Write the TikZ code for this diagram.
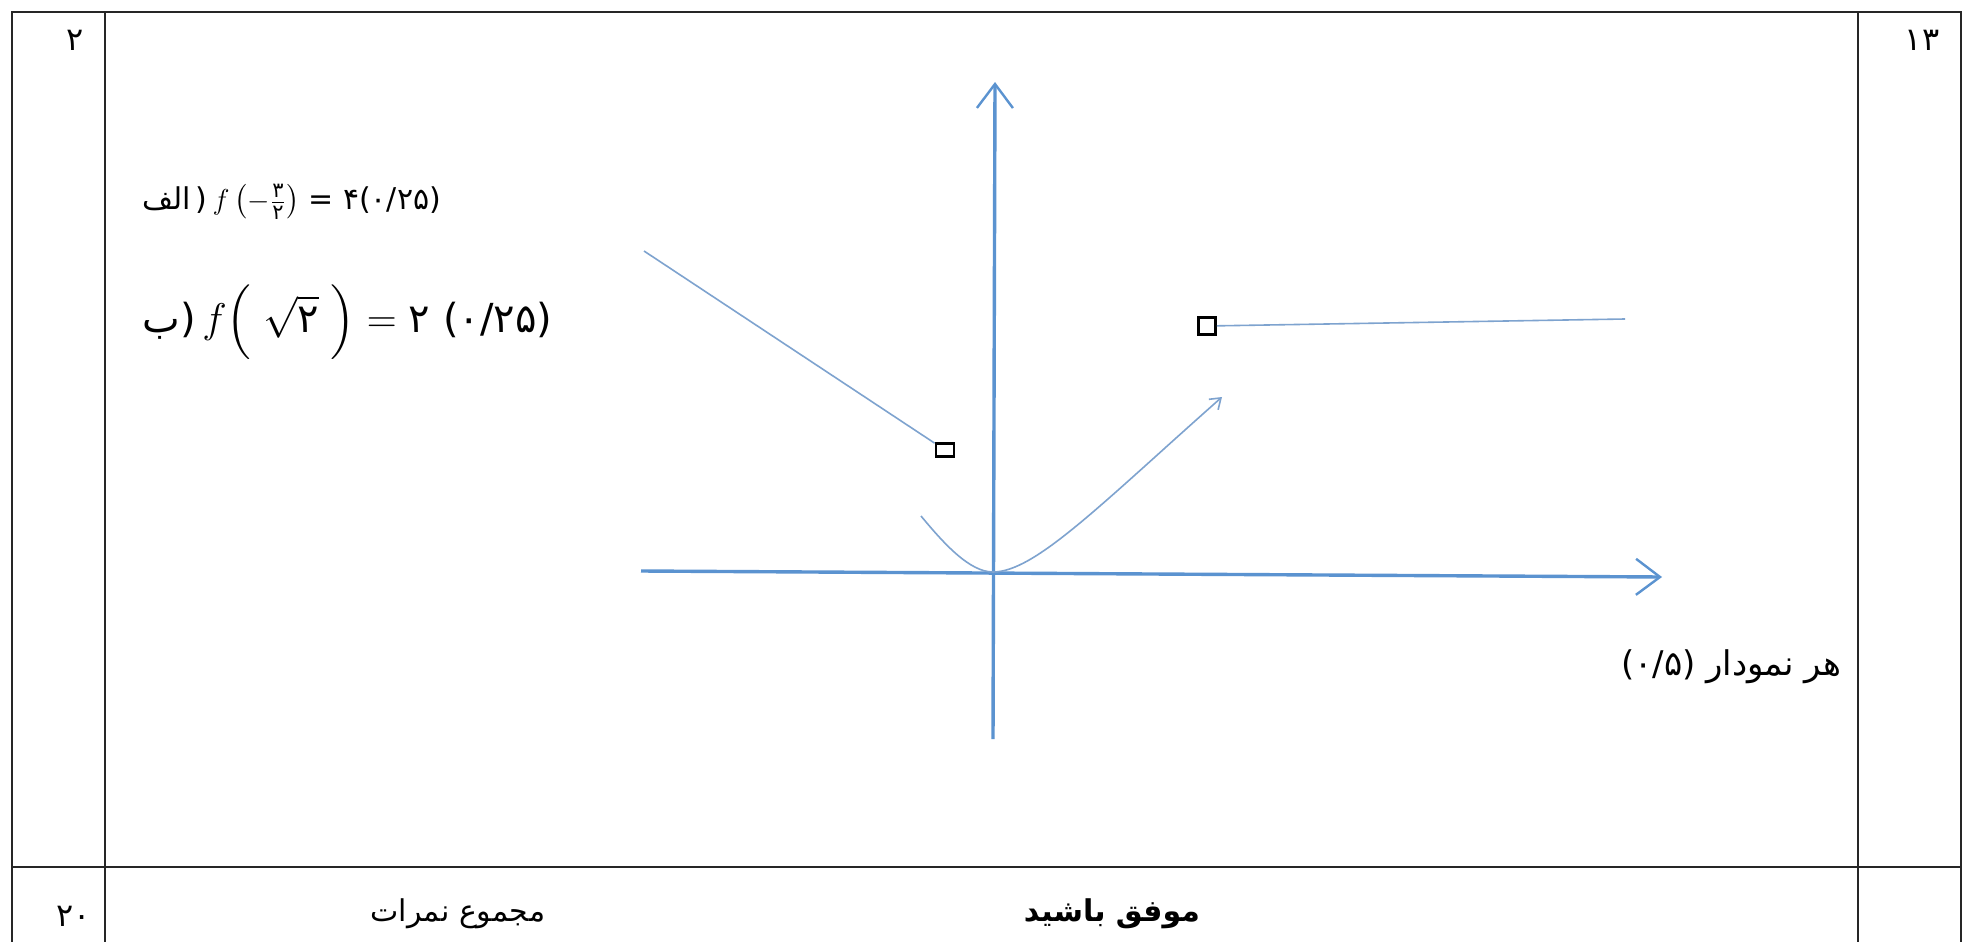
\documentclass[tikz,border=0pt]{standalone}
\usepackage{amsmath}
\usepackage{fontspec}
\usetikzlibrary{arrows.meta}
\TeXXeTstate=1
\newfontfamily\arabicfont[Script=Arabic]{DejaVu Sans}
\newfontfamily\numfont{DejaVu Sans}
\definecolor{axisblue}{HTML}{5B93D0}
\definecolor{curveblue}{HTML}{7EA3CF}
\begin{document}
\begin{tikzpicture}[x=0.5pt,y=-0.5pt,
  frame/.style={line width=1.4pt, black!85},
  axis/.style={line width=1.7pt, axisblue, -{Straight Barb[length=12pt,width=18pt,line width=1.2pt]}},
  curve/.style={line width=0.8pt, curveblue},
  hole/.style={draw=black, line width=1.4pt, fill=white, inner sep=0pt},
  ptext/.style={font=\arabicfont\fontsize{15}{18}\selectfont, inner sep=0pt},
  numtext/.style={font=\numfont\fontsize{16}{18}\selectfont, inner sep=0pt},
  formulaa/.style={font=\fontsize{15}{18}\selectfont, inner sep=0pt, anchor=west},
  formulab/.style={font=\fontsize{20}{23}\selectfont, inner sep=0pt, anchor=west}]

\useasboundingbox (0,0) rectangle (1971,942);
\fill[white] (0,0) rectangle (1971,942);

% table frame
\draw[frame] (12,942) -- (12,12) -- (1961,12) -- (1961,942);
\draw[frame] (105,12) -- (105,942);
\draw[frame] (1858,12) -- (1858,942);
\draw[frame] (12,867) -- (1961,867);

% axes
\coordinate (ybot) at (993,739);
\coordinate (ytop) at (995,82);
\coordinate (xl) at (641,571);
\coordinate (xr) at (1662,577);
\draw[axis] (ybot) -- (ytop);
\draw[axis] (xl) -- (xr);

% pieces of the function
\node[hole, minimum width=9pt, minimum height=6.5pt] (h1) at (945,450) {};
\node[hole, minimum width=8.5pt, minimum height=8.5pt] (h2) at (1207,326) {};
\coordinate (rayend) at (644,251);
\coordinate (lineend) at (1625,319);
\draw[curve] (rayend) -- (h1);
\draw[curve] (h2) -- (lineend);

\coordinate (pl) at (921,516);
\coordinate (O) at (993,572);
\coordinate (pr) at (1222,397);
\draw[curve, -{Straight Barb[length=5pt,width=7pt]}] (pl) .. controls (945,545) and (970,572) .. (O) .. controls (1035,572) and (1100,505) .. (pr);

% texts
\node[numtext] (n2) at (75,40) {۲};
\node[numtext] (n13) at (1922,40) {۱۳};
\node[numtext] (n20) at (74,916) {۲۰};
\node[ptext] (sum) at (458,914) {\beginR مجموع نمرات\endR};
\node[ptext, font=\arabicfont\bfseries\fontsize{15}{18}\selectfont] (good) at (1112,914) {\beginR موفق باشید\endR};
\node[ptext, anchor=east, font=\arabicfont\fontsize{17}{20}\selectfont] (each) at (1842,667) {{\numfont (۰/۵)}\ \beginR هر نمودار\endR};

\node[formulaa] (fa) at (142,202) {{\arabicfont\beginR الف\endR}\,{\numfont )}\,$f\,\bigl(-\tfrac{\text{\numfont ۳}}{\text{\numfont ۲}}\bigr)$\ {\numfont = ۴(۰/۲۵)}};
\node[formulab] (fb) at (142,322) {{\arabicfont\beginR ب\endR}{\numfont )}\,$f\Big(\;\sqrt{\text{\numfont ۲}}\;\Big) =$\ {\numfont ۲\ (۰/۲۵)}};
\end{tikzpicture}
\end{document}
